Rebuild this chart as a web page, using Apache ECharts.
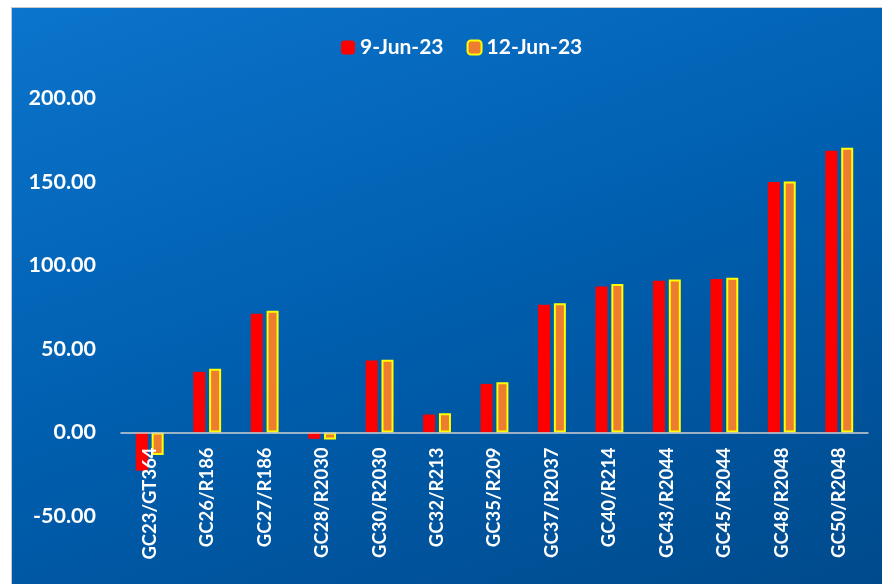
<!DOCTYPE html>
<html><head><meta charset="utf-8">
<script src="https://cdn.jsdelivr.net/npm/echarts@6/dist/echarts.min.js"></script>
<style>
html,body{margin:0;padding:0;background:#fff;}
#bg{position:absolute;left:11px;top:7px;width:871px;height:577px;border-left:1px solid #c8c8c8;border-top:1px solid #c8c8c8;box-sizing:border-box;background:linear-gradient(160deg,#0b74cc 0%,#005eae 50%,#004a8c 100%);}
#c{position:absolute;left:0;top:0;width:882px;height:584px;}
</style></head>
<body><div id="bg"></div><div id="c"></div>
<script>
const categories = ["GC23/GT364","GC26/R186","GC27/R186","GC28/R2030","GC30/R2030","GC32/R213","GC35/R209","GC37/R2037","GC40/R214","GC43/R2044","GC45/R2044","GC48/R2048","GC50/R2048"];
const jun9 = [-22.9, 36.2, 71.0, -3.8, 43.0, 10.7, 29.0, 76.3, 87.3, 90.7, 91.7, 149.8, 168.4];
const jun12 = [-13.5, 38.0, 72.7, -4.3, 43.4, 11.5, 30.0, 77.3, 88.7, 91.5, 92.5, 150.0, 170.2];
const seriesNames = ["9-Jun-23","12-Jun-23"];
const yMin = -50, yMax = 200, yStep = 50;
const font = "Lato, 'Open Sans', sans-serif";
const gridTop = 98, gridBottom = 68, H = 584;
const plotH = H - gridTop - gridBottom;
const zeroOffset = -plotH * (0 - yMin) / (yMax - yMin);
const chart = echarts.init(document.getElementById('c'));
chart.setOption({
  backgroundColor: 'transparent',
  animation: false,
  legend: {
    top: 32, left: 336, itemWidth: 14, itemHeight: 14, itemGap: 23,
    textStyle: {color:'#fff', fontWeight:'bold', fontSize:21, fontFamily:font},
    data: seriesNames
  },
  grid: {left: 121, right: 14, top: gridTop, bottom: gridBottom, containLabel: false, outerBoundsMode: 'none'},
  xAxis: {
    type: 'category', data: categories, offset: zeroOffset, z: 5,
    axisLine: {onZero: false, lineStyle: {color:'#d0d0d0', width:1.5}},
    axisTick: {show:false},
    axisLabel: {rotate: 90, color:'#fff', fontWeight:'bold', fontSize:18.5, fontFamily:font, margin: 15, interval: 0}
  },
  yAxis: {
    type: 'value', min: yMin, max: yMax, interval: yStep,
    splitLine: {show:false}, axisLine:{show:false}, axisTick:{show:false},
    axisLabel: {color:'#fff', fontWeight:'bold', fontSize:21.5, fontFamily:font, margin: 25, formatter: v => v.toFixed(2)}
  },
  series: [
    {name: seriesNames[0], type:'bar', data: jun9, barWidth: 12, barGap: '32%',
     itemStyle:{color:'#ff0000'}},
    {name: seriesNames[1], type:'bar', data: jun12, barWidth: 12,
     itemStyle:{color:'#ed7d31', borderColor:'#ffff00', borderWidth:2}}
  ]
});
</script></body></html>
